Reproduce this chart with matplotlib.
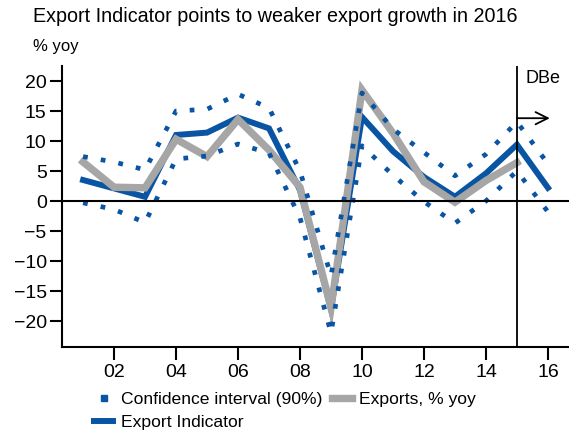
import matplotlib
matplotlib.use("Agg")
import matplotlib.pyplot as plt
from matplotlib.lines import Line2D

plt.rcParams['font.family'] = ['Liberation Sans', 'DejaVu Sans']

years = list(range(2001, 2017))
indicator = [3.5, 2.1, 0.7, 11.0, 11.4, 13.9, 12.1, 1.8, -18.0, 14.0, 8.3, 4.0, 0.7, 4.6, 9.4, 2.2]
export_years = list(range(2001, 2016))
exports = [6.5, 2.3, 2.2, 10.3, 7.4, 13.6, 8.5, 2.3, -17.8, 18.5, 11.3, 3.2, -0.2, 3.4, 6.4]
ci_upper = [7.4, 6.5, 5.2, 15.0, 15.3, 17.8, 15.5, 5.0, -12.5, 18.0, 12.0, 8.1, 4.2, 7.8, 13.2, 6.2]
ci_lower = [-0.3, -1.4, -3.6, 7.0, 7.5, 9.5, 8.0, -2.8, -22.0, 9.2, 4.3, -0.1, -3.7, 0.0, 5.0, -1.8]
xtick_years = list(range(2002, 2017, 2))
yticks = [-20, -15, -10, -5, 0, 5, 10, 15, 20]
forecast_start = 2015

BLUE = "#0A55A3"
GRAY = "#A6A6A6"

fig = plt.figure(figsize=(5.69, 4.34), dpi=100)
ax = fig.add_axes([62/569, 1-347/434, 1-62/569, (347-66)/434])

ax.plot(years, indicator, color=BLUE, lw=4.3, solid_joinstyle='miter', zorder=2)
ax.plot(export_years, exports, color=GRAY, lw=5.3, solid_joinstyle='miter', zorder=3)
ax.plot(years, ci_upper, color=BLUE, lw=3.4, linestyle=(0, (1, 2.8)), dash_capstyle='butt', zorder=4)
ax.plot(years, ci_lower, color=BLUE, lw=3.4, linestyle=(0, (1, 2.8)), dash_capstyle='butt', zorder=4)
ax.axhline(0, color='black', lw=1.5, zorder=5)
ax.axvline(forecast_start, color='black', lw=1.3, zorder=5)
ax.annotate("", xy=(forecast_start + 1.06, 13.8), xytext=(forecast_start, 13.8),
            arrowprops=dict(arrowstyle='->', lw=1.3, mutation_scale=22, color='black',
                            shrinkA=0, shrinkB=0), zorder=6)
ax.text(forecast_start + 0.27, 20.4, "DBe", fontsize=13, va='center', ha='left')

ax.set_xlim(2000.32, 2016.68)
ax.set_ylim(-24.33, 22.5)
ax.set_xticks(xtick_years)
ax.set_xticklabels([f"{y % 100:02d}" for y in xtick_years])
ax.set_yticks(yticks)
ax.tick_params(axis='both', direction='out', length=9, width=1.5, labelsize=14, pad=2)
ax.tick_params(axis='x', pad=3)
for s in ['top', 'right']:
    ax.spines[s].set_visible(False)
for s in ['left', 'bottom']:
    ax.spines[s].set_linewidth(1.5)

fig.text(33/569, 1-17/434, "Export Indicator points to weaker export growth in 2016",
         fontsize=14.2, va='center', ha='left')
fig.text(33/569, 1-47/434, "% yoy", fontsize=12, va='center', ha='left')

handles = [
    Line2D([], [], color=BLUE, marker='s', markersize=5, linestyle='none'),
    Line2D([], [], color=BLUE, lw=4.3),
    Line2D([], [], color=GRAY, lw=5.3),
]
labels = ["Confidence interval (90%)", "Export Indicator", "Exports, % yoy"]
fig.legend(handles, labels, loc='upper left', bbox_to_anchor=(94/569, 1-392/434), ncol=2,
           frameon=False, fontsize=12.6, handlelength=1.1, handletextpad=0.45,
           columnspacing=0.55, labelspacing=0.42, borderpad=0, borderaxespad=0)

fig.savefig("out.png", dpi=100)
